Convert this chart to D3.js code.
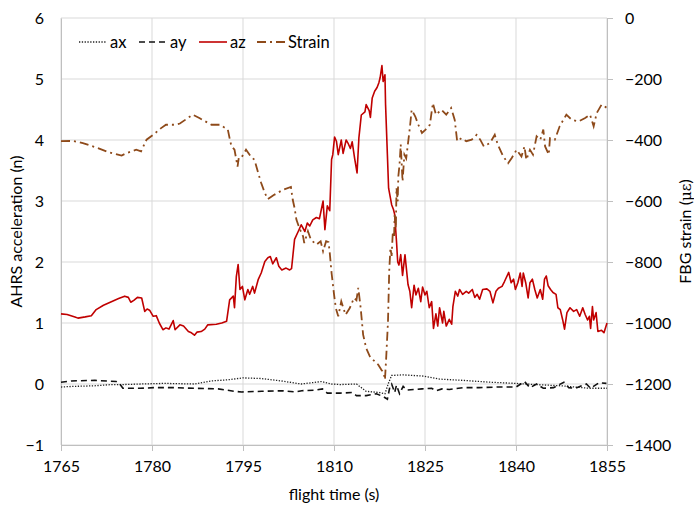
<!DOCTYPE html>
<html>
<head>
<meta charset="utf-8">
<script src="https://cdnjs.cloudflare.com/ajax/libs/d3/7.8.5/d3.min.js"></script>
<style>
  body { margin: 0; background: #fff; }
  svg { font-family: Lato, "Open Sans", sans-serif; }
</style>
</head>
<body>
<div id="chart"></div>
<script>
// x axis ticks
const timeTicks = [1765, 1780, 1795, 1810, 1825, 1840, 1855];
const accTicks = [-1, 0, 1, 2, 3, 4, 5, 6];
const strainTicks = [0, -200, -400, -600, -800, -1000, -1200, -1400];

// az (red, left axis)
const azTime = [1765, 1766, 1767.3, 1767.8, 1769, 1770, 1770.8, 1772, 1773.3, 1774.5, 1775.5, 1776.1, 1776.5, 1777, 1777.6, 1778.3, 1778.8, 1779.2, 1779.6, 1780.2, 1780.7, 1781.2, 1781.8, 1782.3, 1782.8, 1783.5, 1783.8, 1784.6, 1785.2, 1786, 1786.5, 1787, 1787.4, 1788.1, 1788.7, 1789.2, 1790.6, 1791.5, 1792.3, 1792.8, 1793.4, 1793.6, 1793.9, 1794.2, 1794.5, 1794.9, 1795.3, 1795.8, 1796.1, 1796.6, 1796.9, 1797.5, 1798, 1798.6, 1799.1, 1799.5, 1799.9, 1800.5, 1800.9, 1801.4, 1802.1, 1802.7, 1803, 1803.5, 1804.1, 1804.6, 1805.2, 1805.6, 1806, 1806.5, 1807.1, 1807.6, 1808.2, 1808.5, 1808.9, 1809.3, 1809.6, 1809.8, 1810.1, 1810.4, 1810.7, 1811.2, 1811.5, 1812, 1812.3, 1812.7, 1813, 1813.4, 1813.8, 1814.1, 1814.5, 1815.1, 1815.3, 1815.8, 1816, 1816.3, 1816.7, 1817.1, 1817.4, 1817.6, 1817.9, 1818.1, 1818.4, 1818.5, 1818.8, 1819, 1819.5, 1819.8, 1820, 1820.3, 1820.5, 1820.7, 1821, 1821.3, 1821.7, 1822.2, 1822.5, 1822.8, 1823.2, 1823.5, 1823.9, 1824.3, 1824.6, 1825, 1825.3, 1825.7, 1826.1, 1826.4, 1826.8, 1827.1, 1827.4, 1827.9, 1828.1, 1828.5, 1829, 1829.4, 1829.6, 1830, 1830.4, 1830.7, 1831.2, 1831.8, 1832.2, 1832.8, 1833.2, 1833.6, 1834, 1834.5, 1835.2, 1835.7, 1836.2, 1836.7, 1837.1, 1837.7, 1838.1, 1838.8, 1839.2, 1839.6, 1839.9, 1840.3, 1840.7, 1841, 1841.2, 1841.6, 1842, 1842.3, 1842.7, 1843.1, 1843.5, 1844, 1844.4, 1844.7, 1845, 1845.3, 1845.7, 1846.1, 1846.6, 1846.9, 1847.3, 1847.7, 1848, 1848.4, 1848.9, 1849.5, 1850, 1850.5, 1851, 1851.4, 1851.8, 1852.1, 1852.3, 1852.6, 1852.8, 1853.2, 1853.5, 1854.1, 1854.5, 1855];
const azValue = [1.15, 1.14, 1.10, 1.08, 1.10, 1.12, 1.22, 1.29, 1.35, 1.40, 1.44, 1.42, 1.34, 1.37, 1.42, 1.41, 1.19, 1.23, 1.21, 1.11, 1.12, 1.00, 0.89, 0.92, 0.90, 1.04, 0.89, 0.97, 0.95, 0.86, 0.84, 0.80, 0.85, 0.86, 0.90, 0.97, 0.98, 1.00, 1.03, 1.38, 1.44, 1.25, 1.76, 1.96, 1.55, 1.60, 1.38, 1.55, 1.47, 1.60, 1.49, 1.71, 1.82, 2.01, 2.07, 2.09, 1.97, 2.07, 1.93, 1.87, 1.90, 1.87, 1.89, 2.37, 2.50, 2.61, 2.50, 2.64, 2.59, 2.69, 2.73, 2.71, 3.00, 2.53, 2.92, 2.84, 3.68, 3.76, 4.05, 3.98, 3.76, 4.00, 3.78, 4.00, 3.95, 3.86, 3.97, 3.70, 3.46, 4.03, 4.41, 4.46, 4.58, 4.48, 4.37, 4.69, 4.80, 4.86, 4.94, 5.02, 5.22, 4.96, 5.07, 4.58, 3.76, 3.21, 2.94, 2.86, 2.78, 2.34, 2.00, 1.95, 2.12, 1.78, 2.12, 1.63, 1.52, 1.25, 1.62, 1.46, 1.57, 1.35, 1.59, 1.46, 1.52, 1.25, 1.35, 0.91, 1.15, 0.95, 1.25, 1.00, 1.19, 0.95, 1.06, 0.98, 1.27, 1.52, 1.44, 1.55, 1.47, 1.52, 1.49, 1.55, 1.42, 1.47, 1.39, 1.55, 1.56, 1.52, 1.33, 1.52, 1.57, 1.60, 1.68, 1.83, 1.66, 1.72, 1.55, 1.66, 1.82, 1.60, 1.82, 1.66, 1.41, 1.66, 1.72, 1.55, 1.41, 1.55, 1.39, 1.72, 1.77, 1.61, 1.55, 1.50, 1.47, 1.25, 1.22, 1.05, 0.90, 1.17, 1.25, 1.19, 1.22, 1.11, 1.25, 1.14, 1.05, 1.11, 0.91, 1.27, 1.05, 1.17, 0.86, 0.88, 0.84, 1.00];

// ax (dotted, left axis)
const axTime = [1765, 1766.7, 1770.5, 1773.2, 1775, 1778.2, 1782.1, 1787, 1789.8, 1792.6, 1795, 1798, 1801.3, 1804.6, 1807.9, 1809.6, 1811, 1813.7, 1815.3, 1817.5, 1818.4, 1819, 1819.5, 1821.4, 1824.7, 1827.4, 1831.2, 1835.6, 1840, 1843.3, 1847.6, 1852.1, 1855];
const axValue = [-0.05, -0.04, -0.03, -0.01, -0.01, 0.00, 0.01, 0.00, 0.05, 0.07, 0.10, 0.09, 0.05, 0.00, 0.04, 0.00, -0.01, 0.00, -0.12, -0.14, -0.16, 0.02, 0.14, 0.15, 0.13, 0.08, 0.06, 0.03, 0.01, -0.01, -0.03, -0.07, -0.07];

// ay (dashed, left axis)
const ayTime = [1765, 1766.7, 1770.6, 1774.1, 1774.7, 1775.2, 1778.1, 1780.3, 1783.6, 1786.9, 1790.9, 1793.6, 1794.8, 1798.1, 1801.4, 1803.6, 1804.7, 1806.9, 1808.1, 1808.9, 1809.7, 1811, 1813, 1813.7, 1815.3, 1817, 1818.2, 1818.8, 1819.2, 1819.5, 1820, 1820.3, 1820.8, 1821.4, 1822, 1823.3, 1824.5, 1826.1, 1826.8, 1827.8, 1829, 1831.2, 1833.9, 1836.8, 1840, 1841.4, 1842.3, 1843.4, 1844.5, 1846.2, 1847.9, 1848.7, 1849.8, 1851.6, 1852.3, 1853.7, 1854.9];
const ayValue = [0.03, 0.05, 0.06, 0.04, 0.00, -0.07, -0.07, -0.06, -0.06, -0.07, -0.08, -0.12, -0.13, -0.12, -0.11, -0.13, -0.11, -0.10, -0.08, -0.15, -0.15, -0.15, -0.14, -0.19, -0.19, -0.16, -0.21, -0.25, -0.05, 0.00, -0.14, -0.02, -0.16, -0.04, -0.10, -0.09, -0.08, -0.07, -0.11, -0.08, -0.09, -0.06, -0.06, -0.05, -0.05, 0.04, -0.06, 0.00, -0.07, -0.06, 0.03, -0.06, -0.07, 0.00, -0.07, 0.02, 0.01];

// FBG strain (brown dash-dot, right axis)
const strainTime = [1765, 1767, 1768.6, 1771, 1773, 1775, 1775.8, 1777.4, 1778.2, 1779.1, 1780.2, 1781.5, 1782.3, 1783.8, 1784.6, 1786.7, 1787.8, 1789.8, 1791.2, 1792.5, 1792.9, 1793.1, 1793.6, 1794.1, 1794.3, 1794.7, 1795.5, 1796.3, 1796.9, 1797.5, 1798, 1798.6, 1799.1, 1800.2, 1801.6, 1802.9, 1803.2, 1803.5, 1803.8, 1804.3, 1804.9, 1805.1, 1805.7, 1806.2, 1807.1, 1807.8, 1808.2, 1808.7, 1809.1, 1809.3, 1809.6, 1810, 1810.3, 1810.7, 1811.2, 1811.9, 1812.6, 1813.3, 1813.7, 1814, 1814.4, 1814.8, 1815.3, 1815.9, 1816.4, 1817.3, 1817.8, 1818.2, 1818.4, 1818.6, 1818.9, 1819.1, 1819.3, 1819.5, 1819.7, 1819.9, 1820, 1820.2, 1820.3, 1820.5, 1820.6, 1820.8, 1821, 1821.3, 1821.6, 1821.9, 1822.5, 1822.8, 1823.4, 1823.9, 1824.5, 1825.1, 1825.8, 1826.3, 1826.8, 1827.7, 1828.5, 1829.3, 1829.9, 1830.3, 1831, 1831.8, 1832.7, 1833.5, 1834.1, 1834.7, 1835.7, 1836.5, 1837, 1837.9, 1838.7, 1839.3, 1840.1, 1840.9, 1841.4, 1841.7, 1842.3, 1842.8, 1843.4, 1844, 1844.5, 1844.8, 1845.4, 1845.6, 1846.4, 1847.2, 1848.3, 1849.2, 1850.3, 1851.4, 1852.2, 1852.8, 1853.3, 1854.1, 1855];
const strainValue = [-404, -403, -410, -426, -441, -451, -443, -432, -437, -399, -383, -361, -350, -350, -346, -317, -328, -350, -350, -366, -405, -420, -432, -487, -459, -459, -432, -454, -465, -508, -541, -574, -594, -579, -563, -554, -596, -623, -661, -689, -716, -738, -699, -727, -743, -732, -765, -732, -735, -770, -836, -905, -951, -978, -929, -973, -951, -918, -925, -885, -951, -1038, -1082, -1109, -1120, -1137, -1153, -1164, -1186, -1115, -995, -831, -754, -780, -700, -720, -645, -690, -557, -601, -520, -481, -415, -536, -448, -460, -361, -301, -323, -350, -377, -366, -350, -279, -317, -301, -317, -295, -334, -404, -394, -404, -399, -383, -399, -421, -410, -383, -415, -454, -476, -459, -432, -454, -421, -465, -432, -448, -388, -399, -366, -421, -448, -394, -399, -355, -317, -334, -339, -328, -317, -355, -312, -284, -295];

const width = 694, height = 506;
const margin = { top: 18, right: 87, bottom: 61, left: 61 };
const gridColor = "#d9d9d9";
const redColor = "#c00000";
const brownColor = "#8e4a1a";

const svg = d3.select("#chart").append("svg")
  .attr("width", width)
  .attr("height", height);

const x = d3.scaleLinear().domain([1765, 1855]).range([margin.left, width - margin.right]);
const yL = d3.scaleLinear().domain([-1, 6]).range([height - margin.bottom, margin.top]);
const yR = d3.scaleLinear().domain([-1400, 0]).range([height - margin.bottom, margin.top]);

// gridlines
svg.append("g").selectAll("line.h")
  .data(accTicks)
  .enter().append("line")
  .attr("x1", margin.left).attr("x2", width - margin.right)
  .attr("y1", d => yL(d)).attr("y2", d => yL(d))
  .attr("stroke", gridColor).attr("stroke-width", 1);

svg.append("g").selectAll("line.v")
  .data(timeTicks)
  .enter().append("line")
  .attr("x1", d => x(d)).attr("x2", d => x(d))
  .attr("y1", margin.top).attr("y2", height - margin.bottom)
  .attr("stroke", gridColor).attr("stroke-width", 1);

// axes
const xAxis = svg.append("g")
  .attr("transform", `translate(0,${height - margin.bottom})`)
  .call(d3.axisBottom(x).tickValues(timeTicks).tickFormat(d3.format("d")).tickSize(6).tickSizeOuter(0).tickPadding(7));

const leftAxis = svg.append("g")
  .attr("transform", `translate(${margin.left},0)`)
  .call(d3.axisLeft(yL).tickValues(accTicks).tickFormat(d3.format("d")).tickSize(0).tickSizeOuter(0).tickPadding(17));

const rightAxis = svg.append("g")
  .attr("transform", `translate(${width - margin.right},0)`)
  .call(d3.axisRight(yR).tickValues(strainTicks).tickFormat(d3.format("d")).tickSize(6).tickSizeOuter(0).tickPadding(12));

[xAxis, leftAxis, rightAxis].forEach(g => {
  g.select(".domain").attr("stroke", "#bfbfbf");
  g.selectAll(".tick line").attr("stroke", "#bfbfbf");
  g.selectAll(".tick text")
    .attr("fill", "#000")
    .style("font-size", "16px")
    .style("font-family", "Lato, 'Open Sans', sans-serif");
});
xAxis.selectAll(".tick text").attr("dy", "0.9em");

// series
const zipSeries = (t, v) => t.map((d, i) => ({ t: d, v: v[i] }));

const lineL = d3.line().x(d => x(d.t)).y(d => yL(d.v));
const lineR = d3.line().x(d => x(d.t)).y(d => yR(d.v));

svg.append("path")
  .datum(zipSeries(axTime, axValue))
  .attr("d", lineL)
  .attr("fill", "none")
  .attr("stroke", "#222")
  .attr("stroke-width", 1.3)
  .attr("stroke-dasharray", "1.3,1.5");

svg.append("path")
  .datum(zipSeries(ayTime, ayValue))
  .attr("d", lineL)
  .attr("fill", "none")
  .attr("stroke", "#111")
  .attr("stroke-width", 1.6)
  .attr("stroke-dasharray", "6,4");

svg.append("path")
  .datum(zipSeries(azTime, azValue))
  .attr("d", lineL)
  .attr("fill", "none")
  .attr("stroke", redColor)
  .attr("stroke-width", 1.6)
  .attr("stroke-linejoin", "round");

svg.append("path")
  .datum(zipSeries(strainTime, strainValue))
  .attr("d", lineR)
  .attr("fill", "none")
  .attr("stroke", brownColor)
  .attr("stroke-width", 1.8)
  .attr("stroke-dasharray", "9,4,2,4");

// legend
const legendItems = [
  { name: "ax", color: "#222", dash: "1.3,1.5", w: 1.3 },
  { name: "ay", color: "#111", dash: "6,4", w: 1.6 },
  { name: "az", color: redColor, dash: null, w: 1.6 },
  { name: "Strain", color: brownColor, dash: "9,4,2,4", w: 1.8 }
];
const legendX = [79, 139, 199, 257];
const legend = svg.append("g");
legendItems.forEach((item, i) => {
  legend.append("line")
    .attr("x1", legendX[i]).attr("x2", legendX[i] + 28)
    .attr("y1", 42).attr("y2", 42)
    .attr("stroke", item.color)
    .attr("stroke-width", item.w)
    .attr("stroke-dasharray", item.dash);
  legend.append("text")
    .attr("x", legendX[i] + 31)
    .attr("y", 47.5)
    .style("font-size", "16.5px")
    .text(item.name);
});

// axis titles
svg.append("text")
  .attr("x", x(1810))
  .attr("y", 500)
  .attr("text-anchor", "middle")
  .style("font-size", "16px")
  .text("flight time (s)");

svg.append("text")
  .attr("transform", `translate(22,${(margin.top + height - margin.bottom) / 2}) rotate(-90)`)
  .attr("text-anchor", "middle")
  .style("font-size", "16px")
  .text("AHRS acceleration (n)");

const rt = svg.append("text")
  .attr("transform", `translate(691,${(margin.top + height - margin.bottom) / 2}) rotate(-90)`)
  .attr("text-anchor", "middle")
  .style("font-size", "16px");
rt.append("tspan").text("FBG strain (");
rt.append("tspan").style("font-family", "'DejaVu Serif', serif").style("font-size", "15px").text("με");
rt.append("tspan").text(")");
</script>
</body>
</html>
